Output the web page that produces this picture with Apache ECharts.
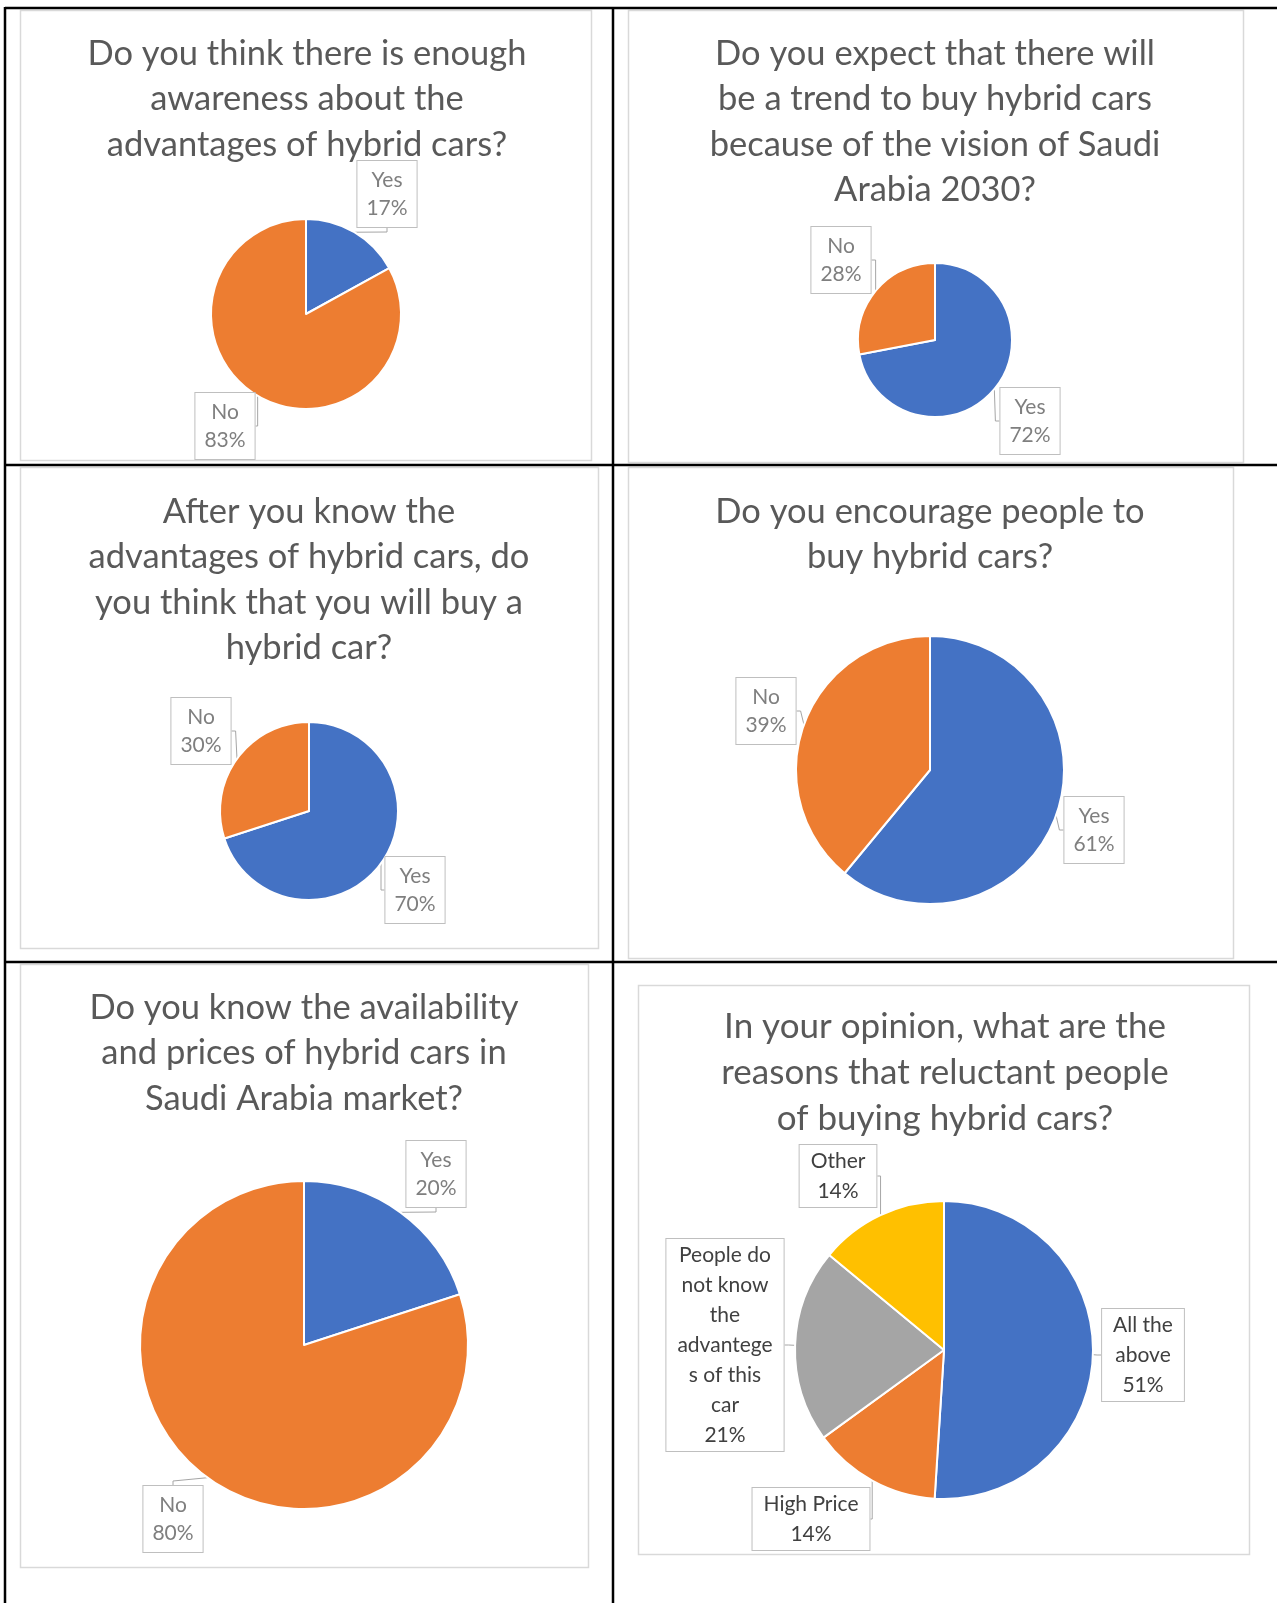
<!DOCTYPE html>
<html>
<head>
<meta charset="utf-8">
<script src="https://cdn.jsdelivr.net/npm/echarts@6/dist/echarts.min.js"></script>
<style>
  html, body { margin: 0; padding: 0; background: #fff; }
  #chart { width: 1277px; height: 1603px; }
</style>
</head>
<body>
<div id="chart"></div>
<script>
// survey answers (percent of respondents)
const yesNo = ["Yes", "No"];
const awareness = [17, 83];
const vision2030 = [72, 28];
const willBuy = [70, 30];
const encourage = [61, 39];
const availability = [20, 80];

const reasonNames = ["All the above", "High Price", "People do not know the advantege s of this car", "Other"];
const reasonLabels = ["All the\nabove", "High Price", "People do\nnot know\nthe\nadvantege\ns of this\ncar", "Other"];
const reasonValues = [51, 14, 21, 14];

const titles = [
  "Do you think there is enough\nawareness about the\nadvantages of hybrid cars?",
  "Do you expect that there will\nbe a trend to buy hybrid cars\nbecause of the vision of Saudi\nArabia 2030?",
  "After you know the\nadvantages of hybrid cars, do\nyou think that you will buy a\nhybrid car?",
  "Do you encourage people to\nbuy hybrid cars?",
  "Do you know the availability\nand prices of hybrid cars in\nSaudi Arabia market?",
  "In your opinion, what are the\nreasons that reluctant people\nof buying hybrid cars?"
];

// office palette
const colors = ["#4472C4", "#ED7D31", "#A5A5A5", "#FFC000"];

// where each panel sits on the page
const panels = [
  { values: awareness, names: yesNo, labels: yesNo, box: [20, 10, 571, 450], title: [307, 31], center: [306, 314], r: 95, labelPos: [[387, 194], [225, 426]] },
  { values: vision2030, names: yesNo, labels: yesNo, box: [628, 10, 615, 452], title: [935, 31], center: [935, 340], r: 77, labelPos: [[1030, 421], [841, 260]] },
  { values: willBuy, names: yesNo, labels: yesNo, box: [20, 467, 578, 481], title: [309, 489], center: [309, 811], r: 89, labelPos: [[415, 890], [201, 731]] },
  { values: encourage, names: yesNo, labels: yesNo, box: [628, 467, 605, 491], title: [930, 489], center: [930, 770], r: 134, labelPos: [[1094, 830], [766, 711]] },
  { values: availability, names: yesNo, labels: yesNo, box: [20, 964, 568, 603], title: [304, 985], center: [304, 1345], r: 164, labelPos: [[436, 1174], [173, 1519]] },
  { values: reasonValues, names: reasonNames, labels: reasonLabels, box: [638, 985, 611, 569], title: [945, 1004], center: [944, 1350], r: 149, labelPos: [[1143, 1355], [811, 1519], [725, 1345], [838, 1176]], big: true }
];

const chart = echarts.init(document.getElementById("chart"));

const graphic = [];
panels.forEach(function (p) {
  graphic.push({
    type: "rect", z: -10,
    shape: { x: p.box[0] + 0.5, y: p.box[1] + 0.5, width: p.box[2], height: p.box[3] },
    style: { fill: "#fff", stroke: "#d9d9d9", lineWidth: 1.5 }
  });
});
// table grid
[
  [5, 8, 1277, 8], [5, 7, 5, 1603], [613, 7, 613, 1603],
  [5, 465, 1277, 465], [5, 962, 1277, 962]
].forEach(function (l) {
  graphic.push({
    type: "line", z: 10,
    shape: { x1: l[0], y1: l[1], x2: l[2], y2: l[3] },
    style: { stroke: "#000", lineWidth: 2.5 }
  });
});

const option = {
  backgroundColor: "#fff",
  animation: false,
  graphic: graphic,
  title: panels.map(function (p, i) {
    return {
      text: titles[i],
      left: p.title[0],
      top: p.title[1],
      textAlign: "center",
      padding: 0,
      textStyle: {
        fontFamily: "Lato",
        fontWeight: "normal",
        fontSize: p.big ? 35 : 34.5,
        lineHeight: p.big ? 46 : 45.5,
        color: "#595959"
      }
    };
  }),
  series: panels.map(function (p) {
    return {
      type: "pie",
      center: p.center,
      radius: p.r,
      startAngle: 90,
      clockwise: true,
      avoidLabelOverlap: false,
      data: p.values.map(function (v, j) {
        return { name: p.names[j], value: v, itemStyle: { color: colors[j] } };
      }),
      itemStyle: { borderColor: "#fff", borderWidth: 2 },
      label: {
        show: true,
        position: "outside",
        formatter: function (d) {
          return p.labels[d.dataIndex] + "\n" + Math.round(d.percent) + "%";
        },
        fontFamily: "Lato",
        fontSize: p.big ? 21 : 21,
        lineHeight: p.big ? 30 : 28,
        color: p.big ? "#404040" : "#7f7f7f",
        align: "center",
        backgroundColor: "#fff",
        borderColor: "#bfbfbf",
        borderWidth: 1,
        padding: p.big ? [1, 11] : [5, 9]
      },
      labelLine: {
        show: true,
        length: 4,
        length2: 4,
        lineStyle: { color: "#a6a6a6", width: 1 }
      },
      labelLayout: function (d) {
        const pos = p.labelPos[d.dataIndex];
        return { x: pos[0], y: pos[1], align: "center", verticalAlign: "middle" };
      }
    };
  })
};

chart.setOption(option);
</script>
</body>
</html>
